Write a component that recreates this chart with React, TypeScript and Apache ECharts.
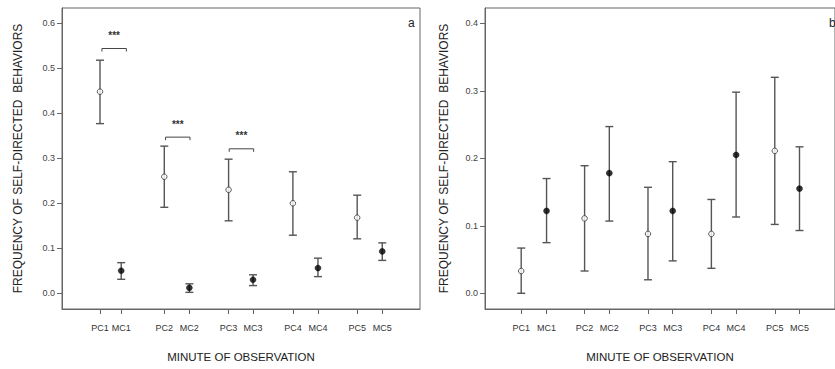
import React, { useEffect, useRef } from "react";
import * as echarts from "echarts";

// Category labels and tick positions (in axis units)
const labels = ["PC1", "MC1", "PC2", "MC2", "PC3", "MC3", "PC4", "MC4", "PC5", "MC5"];
const posA = [1, 1.33, 2, 2.39, 3, 3.38, 4, 4.39, 5, 5.39];
const posB = [1, 1.4, 2, 2.39, 3, 3.39, 4, 4.39, 5, 5.39];

// Panel a: means and 95% CI
const meanA = [0.448, 0.05, 0.259, 0.012, 0.23, 0.03, 0.2, 0.056, 0.168, 0.093];
const lowA = [0.377, 0.031, 0.191, 0.002, 0.161, 0.017, 0.129, 0.037, 0.121, 0.073];
const highA = [0.518, 0.068, 0.327, 0.021, 0.298, 0.041, 0.27, 0.078, 0.218, 0.112];

// Panel b
const meanB = [0.033, 0.122, 0.111, 0.178, 0.088, 0.122, 0.088, 0.205, 0.211, 0.155];
const lowB = [0.0, 0.075, 0.033, 0.107, 0.02, 0.048, 0.037, 0.113, 0.102, 0.093];
const highB = [0.067, 0.17, 0.189, 0.247, 0.157, 0.195, 0.139, 0.298, 0.32, 0.217];

// Significance brackets in panel a: [xStart, xEnd, y]
const bracketsA = [
  [1.03, 1.41, 0.544],
  [2.02, 2.4, 0.347],
  [3.01, 3.39, 0.321],
];

const yTicksA = [0, 0.1, 0.2, 0.3, 0.4, 0.5, 0.6];
const yTicksB = [0, 0.1, 0.2, 0.3, 0.4];

const FONT = "Liberation Sans";
const AXIS_COLOR = "#666";
const BAR_COLOR = "#555";

function labelFor(positions: number[]) {
  return (v: number) => {
    let best = 0;
    let d = Infinity;
    positions.forEach((p, i) => {
      const dd = Math.abs(p - v);
      if (dd < d) {
        d = dd;
        best = i;
      }
    });
    return labels[best];
  };
}

function xAxis(gridIndex: number, positions: number[], min: number, max: number) {
  return {
    type: "value",
    gridIndex,
    min,
    max,
    splitLine: { show: false },
    axisLine: { show: true, onZero: false, lineStyle: { color: AXIS_COLOR, width: 1 } },
    axisTick: { show: true, customValues: positions, length: 5, lineStyle: { color: AXIS_COLOR } },
    axisLabel: {
      customValues: positions,
      formatter: labelFor(positions),
      fontFamily: FONT,
      fontSize: 9,
      color: "#333",
      margin: 14,
    },
    name: "MINUTE OF OBSERVATION",
    nameLocation: "middle",
    nameGap: 42,
    nameTextStyle: { fontFamily: FONT, fontSize: 11.5, color: "#222" },
  };
}

function yAxis(gridIndex: number, ticks: number[], min: number, max: number, gap: number) {
  return {
    type: "value",
    gridIndex,
    min,
    max,
    splitLine: { show: false },
    axisLine: { show: true, onZero: false, lineStyle: { color: AXIS_COLOR, width: 1 } },
    axisTick: { show: true, customValues: ticks, length: 5, lineStyle: { color: AXIS_COLOR } },
    axisLabel: {
      customValues: ticks,
      formatter: (v: number) => v.toFixed(1),
      fontFamily: FONT,
      fontSize: 9,
      color: "#444",
      margin: 7,
    },
    name: "FREQUENCY OF SELF-DIRECTED  BEHAVIORS",
    nameLocation: "middle",
    nameGap: gap,
    nameTextStyle: { fontFamily: FONT, fontSize: 12, color: "#222" },
  };
}

function errorSeries(idx: number, positions: number[], low: number[], high: number[]) {
  return {
    type: "custom",
    xAxisIndex: idx,
    yAxisIndex: idx,
    data: positions.map((p, i) => [p, low[i], high[i]]),
    encode: { x: 0, y: [1, 2] },
    silent: true,
    z: 2,
    renderItem: (params: any, api: any) => {
      const x = api.value(0);
      const pLo = api.coord([x, api.value(1)]);
      const pHi = api.coord([x, api.value(2)]);
      const hw = 4;
      const style = { stroke: BAR_COLOR, lineWidth: 1.4 };
      return {
        type: "group",
        children: [
          { type: "line", shape: { x1: pLo[0], y1: pLo[1], x2: pHi[0], y2: pHi[1] }, style },
          { type: "line", shape: { x1: pHi[0] - hw, y1: pHi[1], x2: pHi[0] + hw, y2: pHi[1] }, style },
          { type: "line", shape: { x1: pLo[0] - hw, y1: pLo[1], x2: pLo[0] + hw, y2: pLo[1] }, style },
        ],
      };
    },
  };
}

function pointSeries(idx: number, positions: number[], mean: number[], pc: boolean) {
  const data: number[][] = [];
  positions.forEach((p, i) => {
    if ((i % 2 === 0) === pc) data.push([p, mean[i]]);
  });
  return {
    type: "scatter",
    xAxisIndex: idx,
    yAxisIndex: idx,
    data,
    symbol: "circle",
    symbolSize: pc ? 5.5 : 6,
    z: 3,
    itemStyle: pc
      ? { color: "#fff", borderColor: "#333", borderWidth: 1 }
      : { color: "#000", borderColor: "#000", borderWidth: 0.5 },
  };
}

export default function App() {
  const ref = useRef<HTMLDivElement>(null);
  useEffect(() => {
    if (!ref.current) return;
    const chart = echarts.init(ref.current, null, { renderer: "svg" });
    chart.setOption({
      animation: false,
      backgroundColor: "#fff",
      grid: [
        { left: 62, top: 8, width: 358, height: 301, show: true, borderColor: AXIS_COLOR, borderWidth: 1, backgroundColor: "transparent" },
        { left: 485, top: 8, width: 355, height: 301, show: true, borderColor: AXIS_COLOR, borderWidth: 1, backgroundColor: "transparent" },
      ],
      xAxis: [xAxis(0, posA, 0.409, 5.977), xAxis(1, posB, 0.429, 5.95)],
      yAxis: [yAxis(0, yTicksA, -0.035, 0.634, 38), yAxis(1, yTicksB, -0.0233, 0.4227, 35)],
      graphic: [
        { type: "text", left: 408, top: 17, style: { text: "a", fontFamily: FONT, fontSize: 12, fill: "#222" } },
        { type: "text", left: 829, top: 17, style: { text: "b", fontFamily: FONT, fontSize: 12, fill: "#222" } },
      ],
      series: [
        errorSeries(0, posA, lowA, highA),
        errorSeries(1, posB, lowB, highB),
        pointSeries(0, posA, meanA, true),
        pointSeries(0, posA, meanA, false),
        pointSeries(1, posB, meanB, true),
        pointSeries(1, posB, meanB, false),
        {
          type: "custom",
          xAxisIndex: 0,
          yAxisIndex: 0,
          data: bracketsA,
          silent: true,
          renderItem: (params: any, api: any) => {
            const y = api.value(2);
            const p1 = api.coord([api.value(0), y]);
            const p2 = api.coord([api.value(1), y]);
            return {
              type: "group",
              children: [
                {
                  type: "polyline",
                  shape: { points: [[p1[0], p1[1] + 3], [p1[0], p1[1]], [p2[0], p2[1]], [p2[0], p2[1] + 3]] },
                  style: { stroke: "#444", lineWidth: 1, fill: null },
                },
                {
                  type: "text",
                  x: (p1[0] + p2[0]) / 2,
                  y: p1[1] - 13,
                  style: {
                    text: "***",
                    fontFamily: FONT,
                    fontSize: 10,
                    fontWeight: "bold",
                    fill: "#333",
                    align: "center",
                    verticalAlign: "middle",
                  },
                },
              ],
            };
          },
        },
      ],
    });
    return () => chart.dispose();
  }, []);
  return <div ref={ref} style={{ position: "fixed", left: 0, top: 0, width: 835, height: 369 }} />;
}
